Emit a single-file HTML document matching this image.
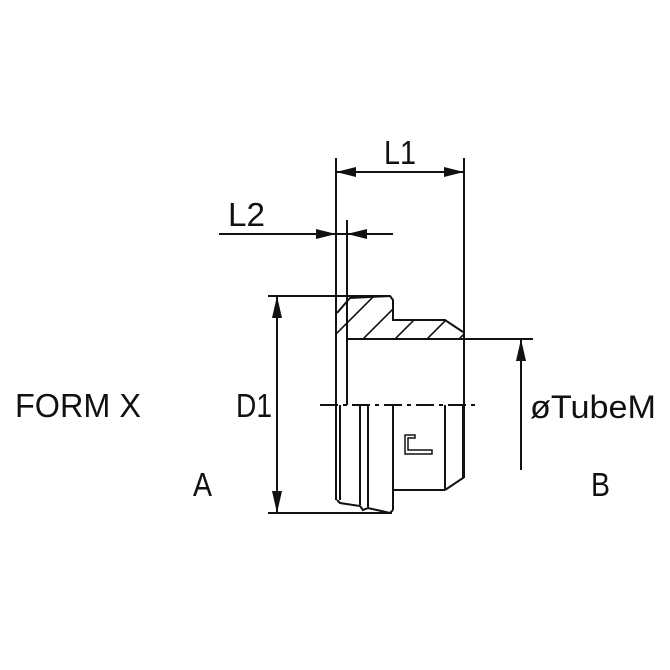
<!DOCTYPE html>
<html><head><style>body{margin:0;background:#fff}svg{display:block}text{font-family:"Liberation Sans",sans-serif;fill:#111}</style></head>
<body>
<svg width="670" height="670" viewBox="0 0 670 670" xmlns="http://www.w3.org/2000/svg">
<defs>
<clipPath id="hc"><polygon points="337,313 350,298 390,296 393,300 393,320 445,320 463,332 463,339 347,339 337,345"/></clipPath>
</defs>
<g stroke="#111" stroke-width="2" fill="none">
<line x1="336" y1="158" x2="336" y2="500"/>
<line x1="464" y1="158" x2="464" y2="478"/>
<line x1="336" y1="172" x2="464" y2="172"/>
<line x1="347" y1="220" x2="347" y2="405"/>
<line x1="219" y1="234" x2="393" y2="234"/>
<line x1="268" y1="296" x2="390" y2="296"/>
<line x1="268" y1="513" x2="392" y2="513"/>
<line x1="277" y1="296" x2="277" y2="513"/>
<line x1="347" y1="339" x2="533" y2="339"/>
<line x1="521" y1="339" x2="521" y2="470"/>
<polyline points="337,313 350,298 390,296 393,300 393,320 445,320 463,332"/>
<line x1="340" y1="405" x2="340" y2="500"/>
<line x1="360" y1="405" x2="360" y2="505"/>
<line x1="368" y1="405" x2="368" y2="507"/>
<line x1="393" y1="405" x2="393" y2="510"/>
<line x1="445" y1="405" x2="445" y2="490"/>
<line x1="393" y1="490" x2="445" y2="490"/>
<polyline points="445,490 463,478 463,405"/>
<polyline points="337,500 340,503 360,506 363,510 368,508 390,513 393,510"/>
<line x1="320" y1="405" x2="478" y2="405" stroke-dasharray="18,5,4,5"/>
<path d="M405,435 h10 v3 h-7 v12 h24 v4 h-27 z" stroke-width="1.5"/>
</g>
<g stroke="#111" stroke-width="1.6" clip-path="url(#hc)">
<line x1="320" y1="350" x2="380" y2="290"/>
<line x1="352" y1="350" x2="412" y2="290"/>
<line x1="384" y1="350" x2="444" y2="290"/>
<line x1="416" y1="350" x2="476" y2="290"/>
<line x1="448" y1="350" x2="508" y2="290"/>
</g>
<g fill="#111">
<polygon points="336,172 356,167 356,177"/>
<polygon points="464,172 444,167 444,177"/>
<polygon points="336,234 316,229 316,239"/>
<polygon points="347,234 367,229 367,239"/>
<polygon points="277,296 272,318 282,318"/>
<polygon points="277,513 272,491 282,491"/>
<polygon points="521,339 516,361 526,361"/>
</g>
<text x="384" y="164" font-size="33" textLength="32" lengthAdjust="spacingAndGlyphs">L1</text>
<text x="228" y="226" font-size="33" textLength="37" lengthAdjust="spacingAndGlyphs">L2</text>
<text x="15" y="417" font-size="33" textLength="126" lengthAdjust="spacingAndGlyphs">FORM X</text>
<text x="236" y="417" font-size="33" textLength="36" lengthAdjust="spacingAndGlyphs">D1</text>
<text x="193" y="496" font-size="33" textLength="19" lengthAdjust="spacingAndGlyphs">A</text>
<text x="591" y="496" font-size="33" textLength="19" lengthAdjust="spacingAndGlyphs">B</text>
<text x="530" y="418" font-size="32" textLength="126" lengthAdjust="spacingAndGlyphs">øTubeM</text>
</svg>
</body></html>
